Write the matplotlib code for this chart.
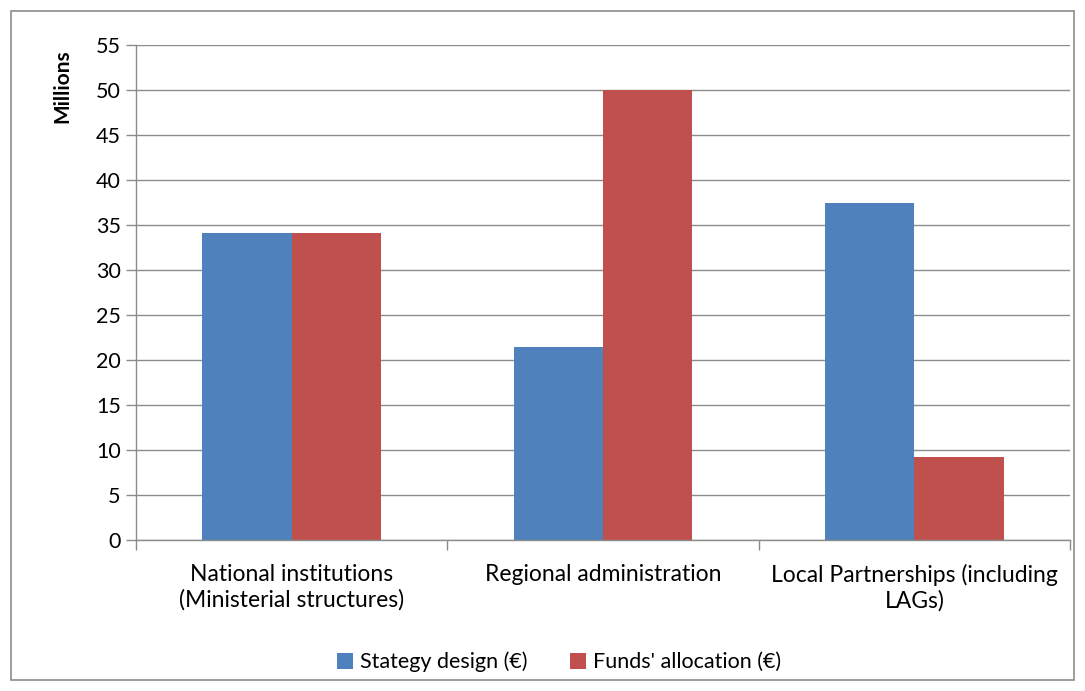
import matplotlib
matplotlib.use('Agg')
import matplotlib.pyplot as plt
import numpy as np
from matplotlib.patches import Rectangle

plt.rcParams['font.family'] = ['Lato', 'DejaVu Sans']

# data (millions of euro)
categories = ['National institutions\n(Ministerial structures)',
              'Regional administration',
              'Local Partnerships (including\nLAGs)']
strategy_design = [34.1, 21.5, 37.5]
funds_allocation = [34.1, 50.0, 9.2]
series_names = ['Stategy design (€)', "Funds' allocation (€)"]

BLUE = '#4F81BD'
RED = '#C0504D'
GRID = '#8C8C8C'

fig = plt.figure(figsize=(10.85, 6.91), dpi=100)
fig.patches.append(Rectangle((11 / 1085, 11 / 691), 1063 / 1085, 669 / 691,
                             transform=fig.transFigure, fill=False,
                             edgecolor='#8C8C8C', linewidth=1.2))

ax = fig.add_axes([136 / 1085, 151 / 691, 934 / 1085, 495 / 691])

x = np.arange(len(categories))
w = 0.287
b1 = ax.bar(x - w / 2, strategy_design, w, color=BLUE, label=series_names[0])
b2 = ax.bar(x + w / 2, funds_allocation, w, color=RED, label=series_names[1])

ax.set_xlim(-0.5, len(categories) - 0.5)
ax.set_ylim(0, 55)
ax.set_yticks(np.arange(0, 56, 5))
ax.yaxis.grid(True, color=GRID, linewidth=1)
ax.set_axisbelow(True)

# category boundary ticks
ax.set_xticks(np.arange(-0.5, len(categories), 1))
ax.set_xticklabels([])
ax.tick_params(axis='x', direction='out', length=7, color=GRID, width=1)
ax.tick_params(axis='y', direction='out', length=7, color=GRID, width=1,
               labelsize=15.5, pad=4)
for i, c in enumerate(categories):
    ax.text(i, -2.7, c, ha='center', va='top', fontsize=16.5,
            linespacing=1.2)

for s in ['top', 'right']:
    ax.spines[s].set_visible(False)
for s in ['left', 'bottom']:
    ax.spines[s].set_color(GRID)
    ax.spines[s].set_linewidth(1)

fig.text(62 / 1085, 1 - 86 / 691, 'Millions', rotation=90, ha='center',
         va='center', fontsize=15, fontweight='bold')

fig.legend(handles=[b1, b2], loc='center', bbox_to_anchor=(559 / 1085, 1 - 662 / 691),
           ncol=2, frameon=False, fontsize=15.5, handlelength=0.75,
           handleheight=0.75, handletextpad=0.3, columnspacing=2.0)

fig.savefig('out.png', dpi=100)
